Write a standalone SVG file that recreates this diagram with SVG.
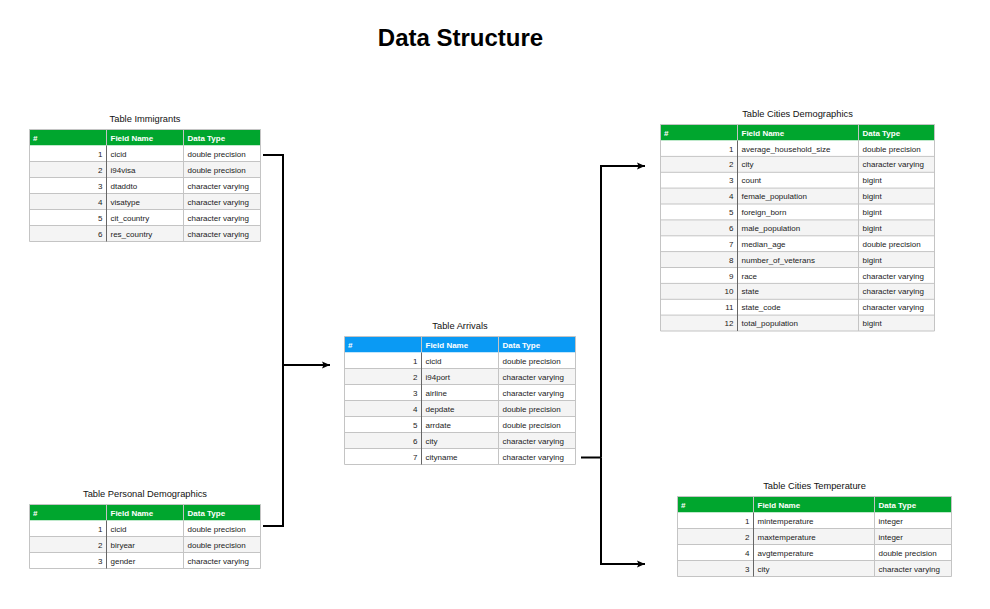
<svg xmlns="http://www.w3.org/2000/svg" width="990" height="609" viewBox="0 0 990 609">
<style>
text{font-family:"Liberation Sans",Arial,Helvetica,sans-serif;}
.main{font-size:24px;font-weight:bold;fill:#000;}
.ttl{font-size:9.3px;fill:#111;text-anchor:middle;}
.hg{fill:#00a62e;}
.hb{fill:#0a9af4;}
.h{font-size:8px;font-weight:bold;fill:#fff;}
.c{font-size:8px;fill:#222;}
.n{font-size:8px;fill:#222;text-anchor:end;}
.odd{fill:#fff;}
.even{fill:#f4f4f4;}
.grid{stroke:#c4c4c4;stroke-width:1;fill:none;}
.dv{stroke:#666;stroke-width:1;}
.hdv{stroke:#c4c4c4;stroke-width:1;}
.conn{stroke:#000;stroke-width:2;fill:none;}
</style>
<defs>
<marker id="arr" markerUnits="userSpaceOnUse" markerWidth="10" markerHeight="10" viewBox="0 0 10 10" refX="9" refY="5" orient="auto">
<path d="M1,1.5 L9,5 L1,8.5 L2.5,5 Z" fill="#000"/>
</marker>
</defs>
<rect width="990" height="609" fill="#fff"/>
<text class="main" x="460.5" y="46" text-anchor="middle">Data Structure</text>

<!-- Table Immigrants -->
<g id="immigrants">
<text class="ttl" x="145" y="121.5">Table Immigrants</text>
<rect class="hg" x="29.5" y="129.5" width="231" height="16"/>
<rect class="odd" x="29.5" y="145.5" width="231" height="16"/>
<rect class="even" x="29.5" y="161.5" width="231" height="16"/>
<rect class="odd" x="29.5" y="177.5" width="231" height="16"/>
<rect class="even" x="29.5" y="193.5" width="231" height="16"/>
<rect class="odd" x="29.5" y="209.5" width="231" height="16"/>
<rect class="even" x="29.5" y="225.5" width="231" height="16"/>
<path class="grid" d="M29.5,129.5H260.5V241.5H29.5Z M29.5,161.5H260.5 M29.5,177.5H260.5 M29.5,193.5H260.5 M29.5,209.5H260.5 M29.5,225.5H260.5 M183.5,129.5V241.5"/>
<path class="hdv" d="M106.5,129.5V145.5"/>
<path class="dv" d="M106.5,145.5V241.5"/>
<text class="h" x="33" y="140.5">#</text><text class="h" x="110.5" y="140.5">Field Name</text><text class="h" x="187.5" y="140.5">Data Type</text>
<text class="n" x="102.5" y="156.5">1</text><text class="c" x="110.5" y="156.5">cicid</text><text class="c" x="187.5" y="156.5">double precision</text>
<text class="n" x="102.5" y="172.5">2</text><text class="c" x="110.5" y="172.5">i94visa</text><text class="c" x="187.5" y="172.5">double precision</text>
<text class="n" x="102.5" y="188.5">3</text><text class="c" x="110.5" y="188.5">dtaddto</text><text class="c" x="187.5" y="188.5">character varying</text>
<text class="n" x="102.5" y="204.5">4</text><text class="c" x="110.5" y="204.5">visatype</text><text class="c" x="187.5" y="204.5">character varying</text>
<text class="n" x="102.5" y="220.5">5</text><text class="c" x="110.5" y="220.5">cit_country</text><text class="c" x="187.5" y="220.5">character varying</text>
<text class="n" x="102.5" y="236.5">6</text><text class="c" x="110.5" y="236.5">res_country</text><text class="c" x="187.5" y="236.5">character varying</text>
</g>

<!-- Table Personal Demographics -->
<g id="personal">
<text class="ttl" x="145" y="496.5">Table Personal Demographics</text>
<rect class="hg" x="29.5" y="504.5" width="231" height="16"/>
<rect class="odd" x="29.5" y="520.5" width="231" height="16"/>
<rect class="even" x="29.5" y="536.5" width="231" height="16"/>
<rect class="odd" x="29.5" y="552.5" width="231" height="16"/>
<path class="grid" d="M29.5,504.5H260.5V568.5H29.5Z M29.5,536.5H260.5 M29.5,552.5H260.5 M183.5,504.5V568.5"/>
<path class="hdv" d="M106.5,504.5V520.5"/>
<path class="dv" d="M106.5,520.5V568.5"/>
<text class="h" x="33" y="515.5">#</text><text class="h" x="110.5" y="515.5">Field Name</text><text class="h" x="187.5" y="515.5">Data Type</text>
<text class="n" x="102.5" y="531.5">1</text><text class="c" x="110.5" y="531.5">cicid</text><text class="c" x="187.5" y="531.5">double precision</text>
<text class="n" x="102.5" y="547.5">2</text><text class="c" x="110.5" y="547.5">biryear</text><text class="c" x="187.5" y="547.5">double precision</text>
<text class="n" x="102.5" y="563.5">3</text><text class="c" x="110.5" y="563.5">gender</text><text class="c" x="187.5" y="563.5">character varying</text>
</g>

<!-- Table Arrivals -->
<g id="arrivals">
<text class="ttl" x="460" y="328.5">Table Arrivals</text>
<rect class="hb" x="344.5" y="336.5" width="231" height="16"/>
<rect class="odd" x="344.5" y="352.5" width="231" height="16"/>
<rect class="even" x="344.5" y="368.5" width="231" height="16"/>
<rect class="odd" x="344.5" y="384.5" width="231" height="16"/>
<rect class="even" x="344.5" y="400.5" width="231" height="16"/>
<rect class="odd" x="344.5" y="416.5" width="231" height="16"/>
<rect class="even" x="344.5" y="432.5" width="231" height="16"/>
<rect class="odd" x="344.5" y="448.5" width="231" height="16"/>
<path class="grid" d="M344.5,336.5H575.5V464.5H344.5Z M344.5,368.5H575.5 M344.5,384.5H575.5 M344.5,400.5H575.5 M344.5,416.5H575.5 M344.5,432.5H575.5 M344.5,448.5H575.5 M498.5,336.5V464.5"/>
<path class="hdv" d="M421.5,336.5V352.5"/>
<path class="dv" d="M421.5,352.5V464.5"/>
<text class="h" x="348" y="347.5">#</text><text class="h" x="425.5" y="347.5">Field Name</text><text class="h" x="502.5" y="347.5">Data Type</text>
<text class="n" x="417.5" y="363.5">1</text><text class="c" x="425.5" y="363.5">cicid</text><text class="c" x="502.5" y="363.5">double precision</text>
<text class="n" x="417.5" y="379.5">2</text><text class="c" x="425.5" y="379.5">i94port</text><text class="c" x="502.5" y="379.5">character varying</text>
<text class="n" x="417.5" y="395.5">3</text><text class="c" x="425.5" y="395.5">airline</text><text class="c" x="502.5" y="395.5">character varying</text>
<text class="n" x="417.5" y="411.5">4</text><text class="c" x="425.5" y="411.5">depdate</text><text class="c" x="502.5" y="411.5">double precision</text>
<text class="n" x="417.5" y="427.5">5</text><text class="c" x="425.5" y="427.5">arrdate</text><text class="c" x="502.5" y="427.5">double precision</text>
<text class="n" x="417.5" y="443.5">6</text><text class="c" x="425.5" y="443.5">city</text><text class="c" x="502.5" y="443.5">character varying</text>
<text class="n" x="417.5" y="459.5">7</text><text class="c" x="425.5" y="459.5">cityname</text><text class="c" x="502.5" y="459.5">character varying</text>
</g>

<!-- Table Cities Demographics -->
<g id="cities-demographics">
<text class="ttl" x="797.5" y="116.5">Table Cities Demographics</text>
<rect class="hg" x="660.5" y="124.5" width="274" height="16"/>
<rect class="odd" x="660.5" y="140.5" width="274" height="15.9"/>
<rect class="even" x="660.5" y="156.4" width="274" height="15.9"/>
<rect class="odd" x="660.5" y="172.3" width="274" height="15.9"/>
<rect class="even" x="660.5" y="188.1" width="274" height="15.9"/>
<rect class="odd" x="660.5" y="204" width="274" height="15.9"/>
<rect class="even" x="660.5" y="219.9" width="274" height="15.9"/>
<rect class="odd" x="660.5" y="235.8" width="274" height="15.9"/>
<rect class="even" x="660.5" y="251.6" width="274" height="15.9"/>
<rect class="odd" x="660.5" y="267.5" width="274" height="15.9"/>
<rect class="even" x="660.5" y="283.4" width="274" height="15.9"/>
<rect class="odd" x="660.5" y="299.3" width="274" height="15.9"/>
<rect class="even" x="660.5" y="315.1" width="274" height="15.9"/>
<path class="grid" d="M660.5,124.5H934.5V331H660.5Z M660.5,156.4H934.5 M660.5,172.3H934.5 M660.5,188.1H934.5 M660.5,204H934.5 M660.5,219.9H934.5 M660.5,235.8H934.5 M660.5,251.6H934.5 M660.5,267.5H934.5 M660.5,283.4H934.5 M660.5,299.3H934.5 M660.5,315.1H934.5 M858.5,124.5V331"/>
<path class="hdv" d="M737.5,124.5V140.5"/>
<path class="dv" d="M737.5,140.5V331"/>
<text class="h" x="664" y="135.5">#</text><text class="h" x="741.5" y="135.5">Field Name</text><text class="h" x="862.5" y="135.5">Data Type</text>
<text class="n" x="733.5" y="151.5">1</text><text class="c" x="741.5" y="151.5">average_household_size</text><text class="c" x="862.5" y="151.5">double precision</text>
<text class="n" x="733.5" y="167.4">2</text><text class="c" x="741.5" y="167.4">city</text><text class="c" x="862.5" y="167.4">character varying</text>
<text class="n" x="733.5" y="183.3">3</text><text class="c" x="741.5" y="183.3">count</text><text class="c" x="862.5" y="183.3">bigint</text>
<text class="n" x="733.5" y="199.1">4</text><text class="c" x="741.5" y="199.1">female_population</text><text class="c" x="862.5" y="199.1">bigint</text>
<text class="n" x="733.5" y="215">5</text><text class="c" x="741.5" y="215">foreign_born</text><text class="c" x="862.5" y="215">bigint</text>
<text class="n" x="733.5" y="230.9">6</text><text class="c" x="741.5" y="230.9">male_population</text><text class="c" x="862.5" y="230.9">bigint</text>
<text class="n" x="733.5" y="246.8">7</text><text class="c" x="741.5" y="246.8">median_age</text><text class="c" x="862.5" y="246.8">double precision</text>
<text class="n" x="733.5" y="262.6">8</text><text class="c" x="741.5" y="262.6">number_of_veterans</text><text class="c" x="862.5" y="262.6">bigint</text>
<text class="n" x="733.5" y="278.5">9</text><text class="c" x="741.5" y="278.5">race</text><text class="c" x="862.5" y="278.5">character varying</text>
<text class="n" x="733.5" y="294.4">10</text><text class="c" x="741.5" y="294.4">state</text><text class="c" x="862.5" y="294.4">character varying</text>
<text class="n" x="733.5" y="310.3">11</text><text class="c" x="741.5" y="310.3">state_code</text><text class="c" x="862.5" y="310.3">character varying</text>
<text class="n" x="733.5" y="326.1">12</text><text class="c" x="741.5" y="326.1">total_population</text><text class="c" x="862.5" y="326.1">bigint</text>
</g>

<!-- Table Cities Temperature -->
<g id="cities-temperature">
<text class="ttl" x="814.5" y="488.5">Table Cities Temperature</text>
<rect class="hg" x="677.5" y="496.5" width="274" height="16"/>
<rect class="odd" x="677.5" y="512.5" width="274" height="16"/>
<rect class="even" x="677.5" y="528.5" width="274" height="16"/>
<rect class="odd" x="677.5" y="544.5" width="274" height="16"/>
<rect class="even" x="677.5" y="560.5" width="274" height="16"/>
<path class="grid" d="M677.5,496.5H951.5V576.5H677.5Z M677.5,528.5H951.5 M677.5,544.5H951.5 M677.5,560.5H951.5 M874.5,496.5V576.5"/>
<path class="hdv" d="M753.5,496.5V512.5"/>
<path class="dv" d="M753.5,512.5V576.5"/>
<text class="h" x="681" y="507.5">#</text><text class="h" x="757.5" y="507.5">Field Name</text><text class="h" x="878.5" y="507.5">Data Type</text>
<text class="n" x="749.5" y="523.5">1</text><text class="c" x="757.5" y="523.5">mintemperature</text><text class="c" x="878.5" y="523.5">integer</text>
<text class="n" x="749.5" y="539.5">2</text><text class="c" x="757.5" y="539.5">maxtemperature</text><text class="c" x="878.5" y="539.5">integer</text>
<text class="n" x="749.5" y="555.5">4</text><text class="c" x="757.5" y="555.5">avgtemperature</text><text class="c" x="878.5" y="555.5">double precision</text>
<text class="n" x="749.5" y="571.5">3</text><text class="c" x="757.5" y="571.5">city</text><text class="c" x="878.5" y="571.5">character varying</text>
</g>

<!-- Connectors -->
<g id="connectors">
<path class="conn" d="M263,155 H283 V365"/>
<path class="conn" d="M263,526 H283 V365"/>
<path class="conn" d="M283,365 H330" marker-end="url(#arr)"/>
<path class="conn" d="M581,457.5 H601"/>
<path class="conn" d="M601,457.5 V166 H645" marker-end="url(#arr)"/>
<path class="conn" d="M601,457.5 V564 H645" marker-end="url(#arr)"/>
</g>
</svg>
